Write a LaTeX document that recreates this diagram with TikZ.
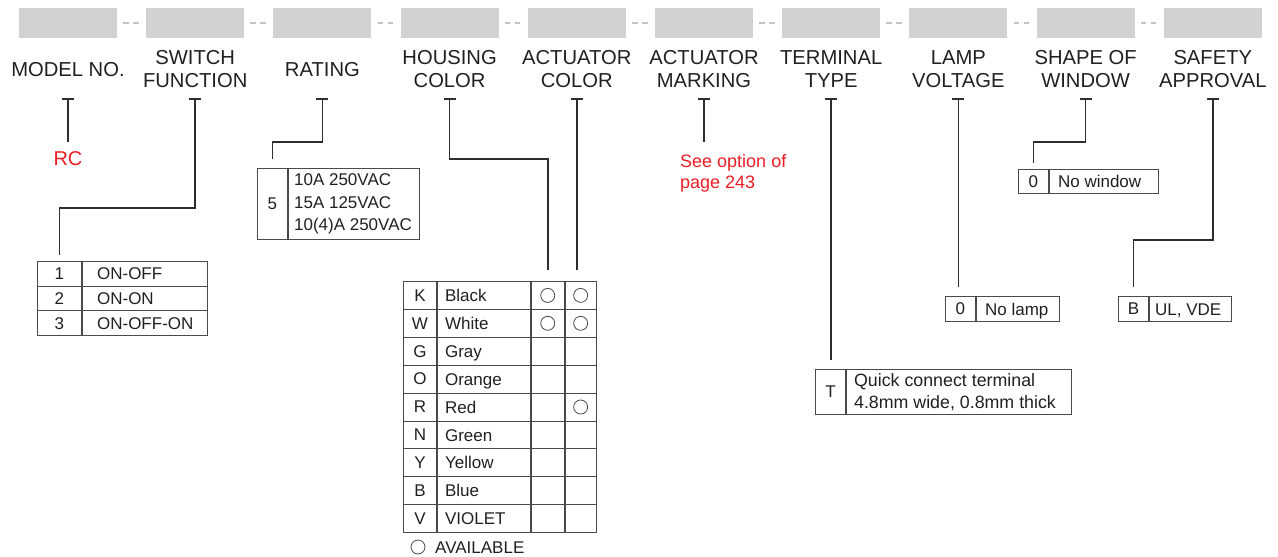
\documentclass[tikz,border=0pt]{standalone}
\usepackage{fontspec}
\setmainfont{Liberation Sans}
\definecolor{barGray}{HTML}{D1D2D4}
\definecolor{dashGray}{HTML}{C4C4C6}
\definecolor{leadGray}{HTML}{2E2E2E}
\definecolor{gridGray}{HTML}{4A4A4A}
\definecolor{txtGray}{HTML}{231F20}
\definecolor{noteRed}{HTML}{ED1C24}

\begin{document}
\begin{tikzpicture}[x=1pt, y=-1pt,
  bar/.style={fill=barGray, minimum width=98, minimum height=30, inner sep=0},
  lbl/.style={align=center, text=txtGray, inner sep=0, font=\fontsize{20.2}{23}\selectfont},
  tx/.style={text=txtGray, inner sep=0, text height=12.2, text depth=0, font=\fontsize{17}{22.5}\selectfont},
  txm/.style={text=txtGray, inner sep=0, align=left, font=\fontsize{17}{22.5}\selectfont},
  cell/.style={draw=gridGray, line width=0.9, inner sep=0, text=txtGray, font=\fontsize{17}{20}\selectfont},
  lead/.style={draw=leadGray, line width=1.7},
  note/.style={text=noteRed, inner sep=0, align=left}
]
\useasboundingbox (0,0) rectangle (1278,557);

% code boxes and field labels
\foreach \nm/\txt [count=\i from 0] in {model/{MODEL NO.}, sw/{SWITCH\\FUNCTION}, rat/{RATING},
    hc/{HOUSING\\COLOR}, ac/{ACTUATOR\\COLOR}, am/{ACTUATOR\\MARKING}, term/{TERMINAL\\TYPE},
    lamp/{LAMP\\VOLTAGE}, win/{SHAPE OF\\WINDOW}, saf/{SAFETY\\APPROVAL}} {
  \node[bar] (b\nm) at ({68+127.2*\i}, 23) {};
  \node[lbl] (l\nm) at ({68+127.2*\i}, 69.5) {\txt};
  \coordinate (t\nm) at ({68+127.2*\i}, 99);
  \draw[lead, line width=2] ([xshift=-6]t\nm) -- ([xshift=6]t\nm);
}
\foreach \a/\b in {model/sw, sw/rat, rat/hc, hc/ac, ac/am, am/term, term/lamp, lamp/win, win/saf}
  \draw[dashGray, line width=1.6, dash pattern=on 5.5 off 4.5]
    ([xshift=6]b\a.east) -- ([xshift=-6.5]b\b.west);

% model no.
\node[note, font=\fontsize{20}{24}\selectfont] (rc) at (68, 159) {RC};
\draw[lead] (tmodel) -- ([yshift=10]rc.north);

% switch function
\foreach \k/\t [count=\i from 0] in {1/ON-OFF, 2/ON-ON, 3/ON-OFF-ON} {
  \node[cell, minimum width=44, minimum height=24.7, anchor=north west] (sw\i) at (37, {261+24.7*\i}) {\k};
  \node[cell, minimum width=125, minimum height=24.7, anchor=west] (swd\i) at (sw\i.east) {};
  \node[tx, anchor=west] at ([xshift=15]swd\i.west) {\t};
}
\draw[lead] (tsw) -- ++(0,109) -| ([yshift=6]sw0.north);

% rating
\node[cell, minimum width=30, minimum height=71, anchor=north west] (rt0) at (257, 168) {5};
\node[cell, minimum width=131, minimum height=71, anchor=west] (rtd0) at (rt0.east) {};
\node[txm, anchor=west] at ([xshift=6]rtd0.west) {10A 250VAC\\15A 125VAC\\10(4)A 250VAC};
\draw[lead] (trat) -- ++(0,43) -| ([yshift=9]rt0.north);

% housing / actuator color
\foreach \k/\t/\h/\c [count=\i from 0] in {K/Black/1/1, W/White/1/1, G/Gray/0/0, O/Orange/0/0,
    R/Red/0/1, N/Green/0/0, Y/Yellow/0/0, B/Blue/0/0, V/VIOLET/0/0} {
  \node[cell, minimum width=33, minimum height=27.9, anchor=north west] (co\i) at (403, {281+27.9*\i}) {\k};
  \node[cell, minimum width=93, minimum height=27.9, anchor=west] (cod\i) at (co\i.east) {};
  \node[cell, minimum width=33, minimum height=27.9, anchor=west] (coh\i) at (cod\i.east) {};
  \node[cell, minimum width=31, minimum height=27.9, anchor=west] (coa\i) at (coh\i.east) {};
  \node[tx, anchor=west] at ([xshift=8]cod\i.west) {\t};
  \ifnum\h=1 \draw[gridGray, line width=0.8] (coh\i) circle (7); \fi
  \ifnum\c=1 \draw[gridGray, line width=0.8] (coa\i) circle (7); \fi
}
\node[tx, anchor=west] (avail) at (435, 547) {AVAILABLE};
\draw[gridGray, line width=0.8] ([xshift=-17]avail.west) circle (7);
\draw[lead] (thc) -- ++(0,60) -| ([yshift=11]coh0.north);
\draw[lead] (tac) -- ([yshift=11]tac |- coa0.north);

% actuator marking
\node[note, anchor=west, font=\fontsize{18}{21.5}\selectfont] (mark) at (680, 173.5) {See option of\\page 243};
\coordinate (markend) at (tam |- 0,142);
\draw[lead] (tam) -- (markend);

% terminal type
\node[cell, minimum width=30, minimum height=45, anchor=north west] (tt0) at (815, 369) {T};
\node[cell, minimum width=225, minimum height=45, anchor=west] (ttd0) at (tt0.east) {};
\node[txm, anchor=west, font=\fontsize{17.8}{22}\selectfont] at ([xshift=8]ttd0.west) {Quick connect terminal\\4.8mm wide, 0.8mm thick};
\draw[lead] (tterm) -- ([yshift=9]tterm |- tt0.north);

% lamp voltage
\node[cell, minimum width=30, minimum height=25, anchor=north west] (lp0) at (945, 296) {0};
\node[cell, minimum width=83, minimum height=25, anchor=west] (lpd0) at (lp0.east) {};
\node[tx, anchor=west] at ([xshift=9]lpd0.west) {No lamp};
\draw[lead] (tlamp) -- ([yshift=9]tlamp |- lp0.north);

% shape of window
\node[cell, minimum width=30, minimum height=24, anchor=north west] (wn0) at (1018, 169) {0};
\node[cell, minimum width=109, minimum height=24, anchor=west] (wnd0) at (wn0.east) {};
\node[tx, anchor=west] at ([xshift=9]wnd0.west) {No window};
\draw[lead] (twin) -- ++(0,43) -| ([yshift=6]wn0.north);

% safety approval
\node[cell, minimum width=30, minimum height=25, anchor=north west] (sf0) at (1118, 296) {B};
\node[cell, minimum width=82, minimum height=25, anchor=west] (sfd0) at (sf0.east) {};
\node[tx, anchor=west] at ([xshift=6]sfd0.west) {UL, VDE};
\draw[lead] (tsaf) -- ++(0,141) -| ([yshift=9]sf0.north);
\end{tikzpicture}
\end{document}
